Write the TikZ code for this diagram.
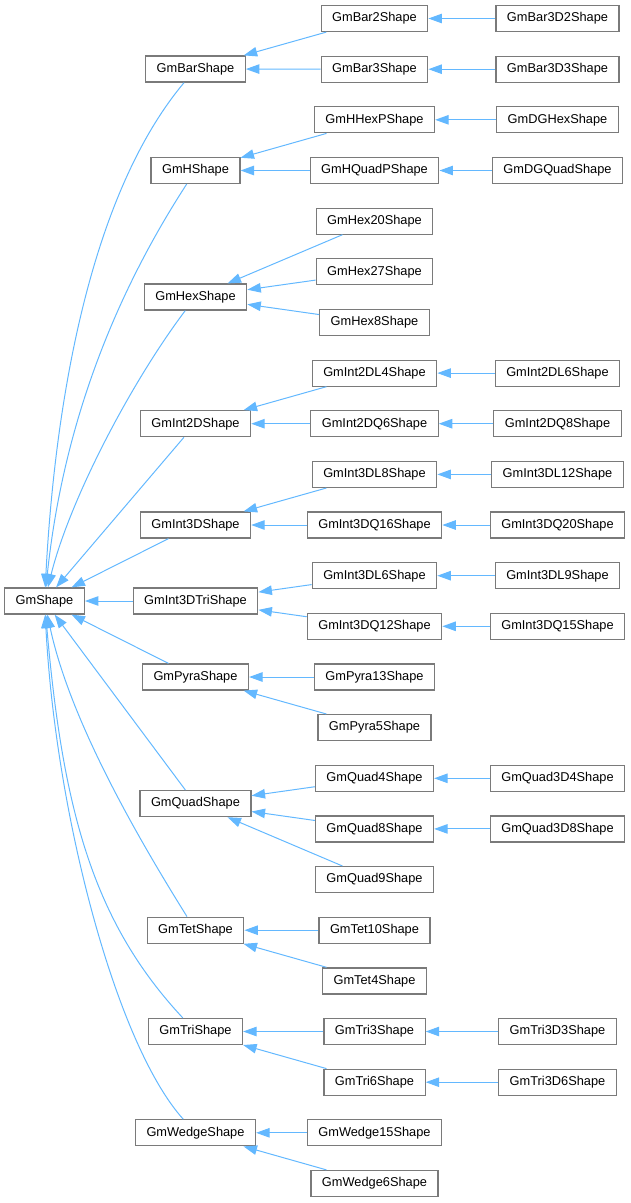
\documentclass[tikz,border=0pt]{standalone}
\usepackage{fontspec}
\setmainfont{Liberation Sans}
\usepackage{tikz}
\usetikzlibrary{arrows.meta}
\definecolor{edgeblue}{HTML}{63B8FF}
\definecolor{boxgray}{HTML}{7A7A7A}

\begin{document}
\begin{tikzpicture}[x=1pt,y=-1pt]
        \tikzstyle{every node} = [rectangle, draw=boxgray, fill=white, line width=1.2pt, minimum height=26pt, inner xsep=11pt, inner ysep=0pt, font=\fontsize{12.8}{14}\selectfont]
        \tikzstyle{inherit} = [draw=edgeblue, line width=1pt, -{Triangle[length=13.5pt,width=9.5pt]}]
        \useasboundingbox (0,0) rectangle (631,1203);
        % base class
        \node (GmShape) at (44.5,601) {GmShape};
        % first level
        \node (GmBarShape) at (195.5,69) {GmBarShape};
        \node (GmHShape) at (195.5,170.5) {GmHShape};
        \node (GmHexShape) at (195.5,297) {GmHexShape};
        \node (GmInt2DShape) at (195.5,423.7) {GmInt2DShape};
        \node (GmInt3DShape) at (195.5,525) {GmInt3DShape};
        \node (GmInt3DTriShape) at (195.5,601) {GmInt3DTriShape};
        \node (GmPyraShape) at (195.5,677) {GmPyraShape};
        \node (GmQuadShape) at (195.5,803.6) {GmQuadShape};
        \node (GmTetShape) at (195.5,930.2) {GmTetShape};
        \node (GmTriShape) at (195.5,1031.5) {GmTriShape};
        \node (GmWedgeShape) at (195.5,1132.8) {GmWedgeShape};
        % second level
        \node (GmBar2Shape) at (374.5,18.5) {GmBar2Shape};
        \node (GmBar3Shape) at (374.5,69.2) {GmBar3Shape};
        \node (GmHHexPShape) at (374.5,119.8) {GmHHexPShape};
        \node (GmHQuadPShape) at (374.5,170.5) {GmHQuadPShape};
        \node (GmHex20Shape) at (374.5,221.1) {GmHex20Shape};
        \node (GmHex27Shape) at (374.5,271.8) {GmHex27Shape};
        \node (GmHex8Shape) at (374.5,322.4) {GmHex8Shape};
        \node (GmInt2DL4Shape) at (374.5,373.1) {GmInt2DL4Shape};
        \node (GmInt2DQ6Shape) at (374.5,423.7) {GmInt2DQ6Shape};
        \node (GmInt3DL8Shape) at (374.5,474.4) {GmInt3DL8Shape};
        \node (GmInt3DQ16Shape) at (374.5,525) {GmInt3DQ16Shape};
        \node (GmInt3DL6Shape) at (374.5,575.7) {GmInt3DL6Shape};
        \node (GmInt3DQ12Shape) at (374.5,626.3) {GmInt3DQ12Shape};
        \node (GmPyra13Shape) at (374.5,677) {GmPyra13Shape};
        \node (GmPyra5Shape) at (374.5,727.6) {GmPyra5Shape};
        \node (GmQuad4Shape) at (374.5,778.3) {GmQuad4Shape};
        \node (GmQuad8Shape) at (374.5,828.9) {GmQuad8Shape};
        \node (GmQuad9Shape) at (374.5,879.6) {GmQuad9Shape};
        \node (GmTet10Shape) at (374.5,930.2) {GmTet10Shape};
        \node (GmTet4Shape) at (374.5,980.9) {GmTet4Shape};
        \node (GmTri3Shape) at (374.5,1031.5) {GmTri3Shape};
        \node (GmTri6Shape) at (374.5,1082.2) {GmTri6Shape};
        \node (GmWedge15Shape) at (374.5,1132.8) {GmWedge15Shape};
        \node (GmWedge6Shape) at (374.5,1183.5) {GmWedge6Shape};
        % third level
        \node (GmBar3D2Shape) at (557.5,18.5) {GmBar3D2Shape};
        \node (GmBar3D3Shape) at (557.5,69.2) {GmBar3D3Shape};
        \node (GmDGHexShape) at (557.5,119.8) {GmDGHexShape};
        \node (GmDGQuadShape) at (557.5,170.5) {GmDGQuadShape};
        \node (GmInt2DL6Shape) at (557.5,373.1) {GmInt2DL6Shape};
        \node (GmInt2DQ8Shape) at (557.5,423.7) {GmInt2DQ8Shape};
        \node (GmInt3DL12Shape) at (557.5,474.4) {GmInt3DL12Shape};
        \node (GmInt3DQ20Shape) at (557.5,525) {GmInt3DQ20Shape};
        \node (GmInt3DL9Shape) at (557.5,575.7) {GmInt3DL9Shape};
        \node (GmInt3DQ15Shape) at (557.5,626.3) {GmInt3DQ15Shape};
        \node (GmQuad3D4Shape) at (557.5,778.3) {GmQuad3D4Shape};
        \node (GmQuad3D8Shape) at (557.5,828.9) {GmQuad3D8Shape};
        \node (GmTri3D3Shape) at (557.5,1031.5) {GmTri3D3Shape};
        \node (GmTri3D6Shape) at (557.5,1082.2) {GmTri3D6Shape};
        % straight inheritance edges
        \foreach \from/\to in {GmInt2DShape/GmShape, GmInt3DShape/GmShape, GmInt3DTriShape/GmShape,
                GmPyraShape/GmShape, GmQuadShape/GmShape,
                GmBar2Shape/GmBarShape, GmBar3Shape/GmBarShape, GmHHexPShape/GmHShape, GmHQuadPShape/GmHShape,
                GmHex20Shape/GmHexShape, GmHex27Shape/GmHexShape, GmHex8Shape/GmHexShape,
                GmInt2DL4Shape/GmInt2DShape, GmInt2DQ6Shape/GmInt2DShape,
                GmInt3DL8Shape/GmInt3DShape, GmInt3DQ16Shape/GmInt3DShape,
                GmInt3DL6Shape/GmInt3DTriShape, GmInt3DQ12Shape/GmInt3DTriShape,
                GmPyra13Shape/GmPyraShape, GmPyra5Shape/GmPyraShape,
                GmQuad4Shape/GmQuadShape, GmQuad8Shape/GmQuadShape, GmQuad9Shape/GmQuadShape,
                GmTet10Shape/GmTetShape, GmTet4Shape/GmTetShape,
                GmTri3Shape/GmTriShape, GmTri6Shape/GmTriShape,
                GmWedge15Shape/GmWedgeShape, GmWedge6Shape/GmWedgeShape,
                GmBar3D2Shape/GmBar2Shape, GmBar3D3Shape/GmBar3Shape,
                GmDGHexShape/GmHHexPShape, GmDGQuadShape/GmHQuadPShape,
                GmInt2DL6Shape/GmInt2DL4Shape, GmInt2DQ8Shape/GmInt2DQ6Shape,
                GmInt3DL12Shape/GmInt3DL8Shape, GmInt3DQ20Shape/GmInt3DQ16Shape,
                GmInt3DL9Shape/GmInt3DL6Shape, GmInt3DQ15Shape/GmInt3DQ12Shape,
                GmQuad3D4Shape/GmQuad4Shape, GmQuad3D8Shape/GmQuad8Shape,
                GmTri3D3Shape/GmTri3Shape, GmTri3D6Shape/GmTri6Shape}
            \draw[inherit] (\from) -- (\to);
        % long curved edges into the base class
        \draw[inherit] (GmBarShape) to[out=230, in=87, out looseness=0.75, in looseness=0.82] (GmShape);
        \draw[inherit] (GmHShape) to[out=237, in=84, out looseness=0.81, in looseness=0.96] (GmShape);
        \draw[inherit] (GmHexShape) to[out=233, in=76, looseness=0.75] (GmShape);
        \draw[inherit] (GmTetShape) to[out=122, in=-78, looseness=0.8] (GmShape);
        \draw[inherit] (GmTriShape) to[out=133, in=-85, out looseness=0.78, in looseness=1.2] (GmShape);
        \draw[inherit] (GmWedgeShape) to[out=132, in=-87, out looseness=0.49, in looseness=0.98] (GmShape);
\end{tikzpicture}
\end{document}
